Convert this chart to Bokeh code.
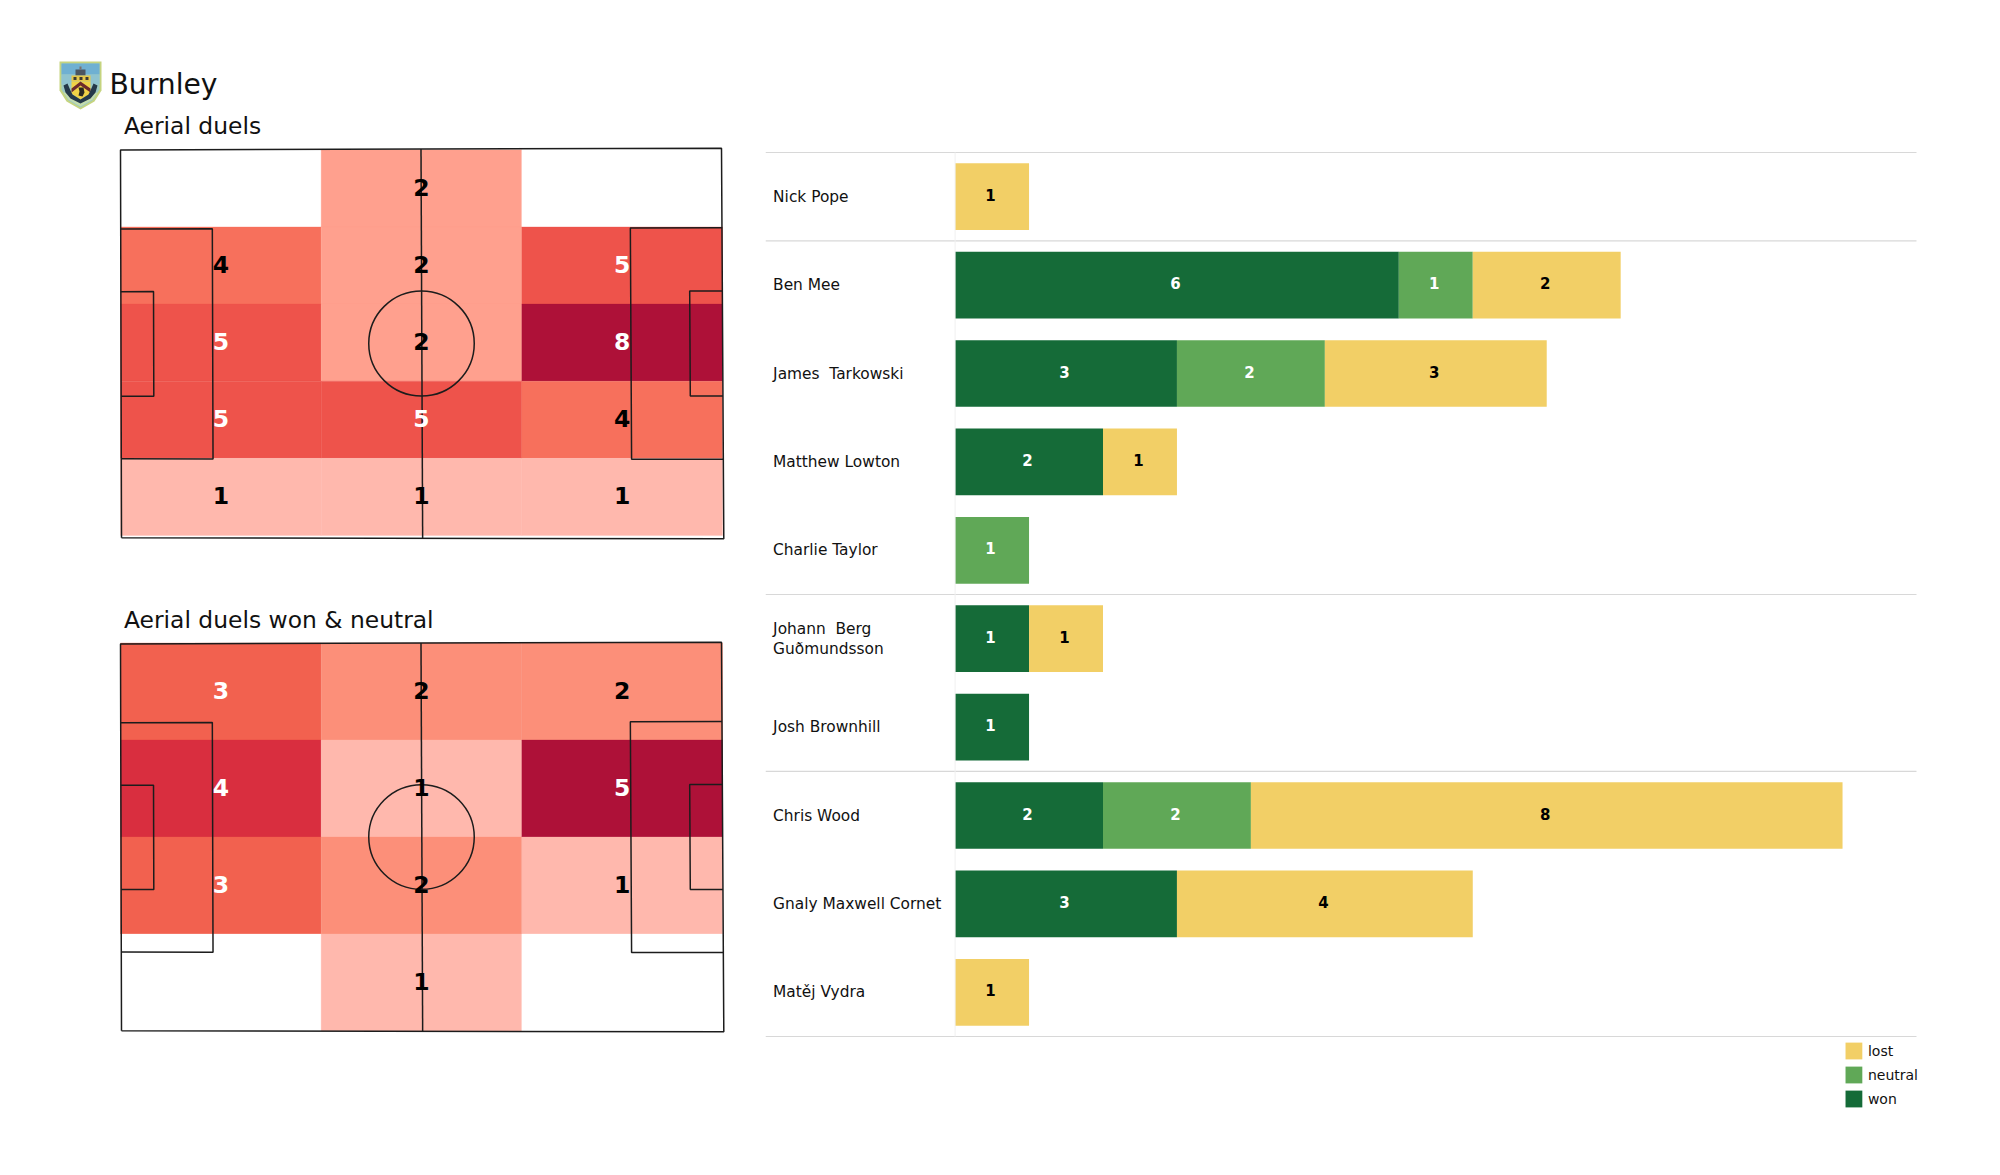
from bokeh.plotting import figure
from bokeh.layouts import row, column
from bokeh.models import ColumnDataSource, Label, Legend, LegendItem, FactorRange, Range1d
from bokeh.embed import file_html
from bokeh.resources import INLINE
from bokeh.core.properties import value

players = ["Nick Pope", "Ben Mee", "James  Tarkowski", "Matthew Lowton", "Charlie Taylor",
           "Johann  Berg\nGuðmundsson", "Josh Brownhill", "Chris Wood", "Gnaly Maxwell Cornet", "Matěj Vydra"]
won = [0, 6, 3, 2, 0, 1, 1, 2, 3, 0]
neutral = [0, 1, 2, 0, 1, 0, 0, 2, 0, 0]
lost = [1, 2, 3, 1, 0, 1, 0, 8, 4, 1]

pitch1_counts = [[0, 2, 0], [4, 2, 5], [5, 2, 8], [5, 5, 4], [1, 1, 1]]
pitch2_counts = [[3, 2, 2], [4, 1, 5], [3, 2, 1], [0, 1, 0]]
pitch1_colors = {0: "#ffffff", 1: "#ffb8ad", 2: "#ffa08e", 4: "#f7705c", 5: "#ee534b", 8: "#ae1138"}
pitch2_colors = {0: "#ffffff", 1: "#ffb8ad", 2: "#fc8f79", 3: "#f2614f", 4: "#d92e3f", 5: "#ae1138"}
pitch1_white = 5
pitch2_white = 3

WON, NEUTRAL, LOST = "#156b38", "#60a857", "#f2cf66"
FONT = "DejaVu Sans"
L, W = 105.0, 68.0
LEFT_W = 765


def pitch(counts, colors, white_from, ph, inset_top, inset_bottom):
    pad = 3
    pw = 602
    sx = L / pw
    sy = W / ph
    p = figure(width=LEFT_W, height=ph + 2 * pad, output_backend="svg", toolbar_location=None,
               x_range=Range1d(-pad * sx, L + pad * sx), y_range=Range1d(-pad * sy, W + pad * sy),
               min_border_left=120 - pad, min_border_right=LEFT_W - 120 - pw - pad, min_border_top=0, min_border_bottom=0,
               outline_line_color=None, background_fill_color=None, border_fill_color=None, frame_align=False)
    p.axis.visible = False
    p.grid.visible = False
    n = len(counts)
    heat_top = W - inset_top * sy
    heat_h = (ph - inset_top - inset_bottom) * sy / n
    xs, ys, vals, cols, tc = [], [], [], [], []
    for r, line in enumerate(counts):
        for c, v in enumerate(line):
            xs.append((c + .5) * L / 3)
            ys.append(heat_top - (r + .5) * heat_h)
            vals.append(str(v))
            cols.append(colors[v])
            tc.append("#ffffff" if v >= white_from else "#000000")
    src = ColumnDataSource(dict(x=xs, y=ys, t=vals, c=cols, tc=tc))
    p.rect("x", "y", width=L / 3, height=heat_h, fill_color="c", line_color="c", line_width=0.3, source=src)
    lc, lw = "#1c1c1c", 1.5

    def draw(px, py):
        # the reference's pitch drawing is very slightly sheared
        ox, oy = [], []
        for x, y in zip(px, py):
            u, v = x / L, y / W
            dx = (1 - v) * ((1 - u) * 1 + u * 1.3) + v * (u * -1)
            dy = (1 - v) * ((1 - u) * -0.7 + u * 0.3) + v * ((1 - u) * 1.5 + u * -0.3)
            ox.append(x + dx * sx)
            oy.append(y - dy * sy)
        p.line(ox, oy, line_color=lc, line_width=lw)

    draw([0, L, L, 0, 0], [0, 0, W, W, 0])
    draw([L / 2, L / 2], [0, W])
    for x0, x1 in ((0, 16), (L, L - 16)):
        draw([x0, x1, x1, x0], [W / 2 - 20.16, W / 2 - 20.16, W / 2 + 20.16, W / 2 + 20.16])
    for x0, x1 in ((0, 5.7), (L, L - 5.7)):
        draw([x0, x1, x1, x0], [W / 2 - 9.16, W / 2 - 9.16, W / 2 + 9.16, W / 2 + 9.16])
    p.ellipse([L / 2], [W / 2], width=18.4, height=18.3, fill_color=None, line_color=lc, line_width=lw)
    nz = [i for i, v in enumerate(vals) if v != "0"]
    s2 = ColumnDataSource(dict(x=[xs[i] for i in nz], y=[ys[i] for i in nz], t=[vals[i] for i in nz], tc=[tc[i] for i in nz]))
    p.text("x", "y", text="t", text_color="tc", text_font=value(FONT), text_font_style="bold",
           text_font_size="23.5px", text_align="center", text_baseline="middle", y_offset=-1, source=s2)
    return p


def blank(h):
    p = figure(width=LEFT_W, height=h, output_backend="svg", toolbar_location=None,
               x_range=Range1d(0, LEFT_W), y_range=Range1d(h, 0),
               min_border_left=0, min_border_right=0, min_border_top=0, min_border_bottom=0,
               outline_line_color=None, background_fill_color=None, border_fill_color=None, frame_align=False)
    p.axis.visible = False
    p.grid.visible = False
    return p


head = blank(145)
def P(pts, color):
    head.patch([a for a, b in pts], [b for a, b in pts], fill_color=color, line_color=None)

P([(59, 61), (101, 61), (101, 90), (94, 101), (80, 109), (66, 101), (59, 90)], "#c5d47f")
P([(61, 63), (99, 63), (99, 89), (92, 100), (80, 107), (68, 100), (61, 89)], "#9cc9c2")
P([(61, 63), (99, 63), (99, 74), (61, 74)], "#6fb0d2")
P([(61, 74), (99, 74), (99, 84), (61, 84)], "#8fc3cf")
P([(63, 92), (97, 92), (92, 99), (80, 106), (68, 99)], "#c3dcae")
P([(75, 69), (85, 69), (85, 75), (75, 75)], "#4c5560")
P([(79, 66), (81, 66), (81, 69), (79, 69)], "#7d6f6a")
P([(71, 75), (90, 75), (90, 81), (71, 81)], "#e6c84a")
for bx in (73, 79, 85):
    P([(bx, 76.5), (bx + 3, 76.5), (bx + 3, 79.5), (bx, 79.5)], "#3c3a34")
P([(71, 81), (90, 81), (90, 93), (80, 99), (71, 93)], "#efd247")
P([(71, 88), (80, 81), (90, 88), (90, 92), (80, 85), (71, 92)], "#6e2a2c")
P([(78, 87), (83, 87), (84, 92), (82, 96), (78, 95), (79, 91)], "#2b2a22")
P([(63, 85), (67, 83), (70, 90), (72, 94), (80, 99), (88, 94), (90, 90), (93, 83), (97, 85), (95, 92), (90, 98), (80, 103), (70, 98), (65, 92)], "#24394a")
head.add_layout(Label(x=109, y=84, text="Burnley", text_font=FONT, text_font_size="28.2px",
                      text_color="#111111", text_baseline="middle", text_align="left"))
head.add_layout(Label(x=123.5, y=125, text="Aerial duels", text_font=FONT, text_font_size="23.4px",
                      text_color="#111111", text_baseline="middle", text_align="left"))

gap = blank(98)
gap.add_layout(Label(x=123.5, y=78.5, text="Aerial duels won & neutral", text_font=FONT, text_font_size="23.4px",
                     text_color="#111111", text_baseline="middle", text_align="left"))

p1 = pitch(pitch1_counts, pitch1_colors, pitch1_white, 390, 1.3, 3)
p2 = pitch(pitch2_counts, pitch2_colors, pitch2_white, 389, 0.5, 0.5)
left = column(head, p1, gap, p2, spacing=0)

# bars
UNIT = 73.92
X_MIN = (LEFT_W - 954.5) / UNIT
X_LINE_END = 13.0
X_MAX = X_LINE_END + 9 / UNIT
bar = figure(width=1925 - LEFT_W, height=1126, output_backend="svg", toolbar_location=None,
             x_range=Range1d(X_MIN, X_MAX),
             y_range=FactorRange(factors=players[::-1], factor_padding=0, range_padding=80 / 88.4,
                                 range_padding_units="absolute"),
             min_border_left=0, min_border_right=0, min_border_top=72, min_border_bottom=10,
             outline_line_color=None, background_fill_color=None, border_fill_color=None, frame_align=False)
bar.axis.visible = False
bar.grid.visible = False
src = ColumnDataSource(dict(y=players, won=won, neutral=neutral, lost=lost,
                            n1=[a + b for a, b in zip(won, neutral)],
                            n2=[a + b + c for a, b, c in zip(won, neutral, lost)]))
h = 0.755
r_w = bar.hbar(y="y", left=0, right="won", height=h, fill_color=WON, line_color=None, source=src)
r_n = bar.hbar(y="y", left="won", right="n1", height=h, fill_color=NEUTRAL, line_color=None, source=src)
r_l = bar.hbar(y="y", left="n1", right="n2", height=h, fill_color=LOST, line_color=None, source=src)

shown = [n.replace("  ", " \u00a0") for n in players]
bar.text(x=[0] * len(players), y=players, text=shown, x_offset=-182, text_font=value(FONT), text_font_size="15.4px",
         text_color="#111111", text_align="left", text_baseline="middle", text_line_height=1.1)


def seg_labels(starts, vals, color):
    idx = [i for i, v in enumerate(vals) if v > 0]
    bar.text(x=[starts[i] + vals[i] / 2 for i in idx], y=[players[i] for i in idx], text=[str(vals[i]) for i in idx],
             text_font=value(FONT), text_font_style="bold", text_font_size="15px", text_color=color,
             text_align="center", text_baseline="middle", x_offset=-1.5, y_offset=-2)


seg_labels([0] * 10, won, "#ffffff")
seg_labels(won, neutral, "#ffffff")
seg_labels(src.data["n1"], lost, "#000000")

# separators between positions
sep_after = [0, 4, 6, 9]
for yval in [(players[0], 0.5)] + [(players[s], -0.5) for s in sep_after]:
    bar.line([X_MIN, X_LINE_END], [yval, yval], line_color="#d8d8d8", line_width=1.2)
bar.line([0, 0], [(players[-1], -0.5), (players[0], 0.5)], line_color="#f0f0f0", line_width=1)

legend = Legend(items=[LegendItem(label="lost", renderers=[r_l]), LegendItem(label="neutral", renderers=[r_n]),
                       LegendItem(label="won", renderers=[r_w])],
                location="bottom_right", orientation="vertical", border_line_color=None, background_fill_color=None,
                background_fill_alpha=0, glyph_width=21, glyph_height=21, label_height=21, spacing=3, padding=0, margin=7,
                label_text_font=FONT, label_text_font_size="14px", label_text_color="#111111",
                label_standoff=4, click_policy="none")
bar.add_layout(legend)

page = row(left, bar, spacing=0)
open("out.html", "w").write(file_html(page, INLINE))
